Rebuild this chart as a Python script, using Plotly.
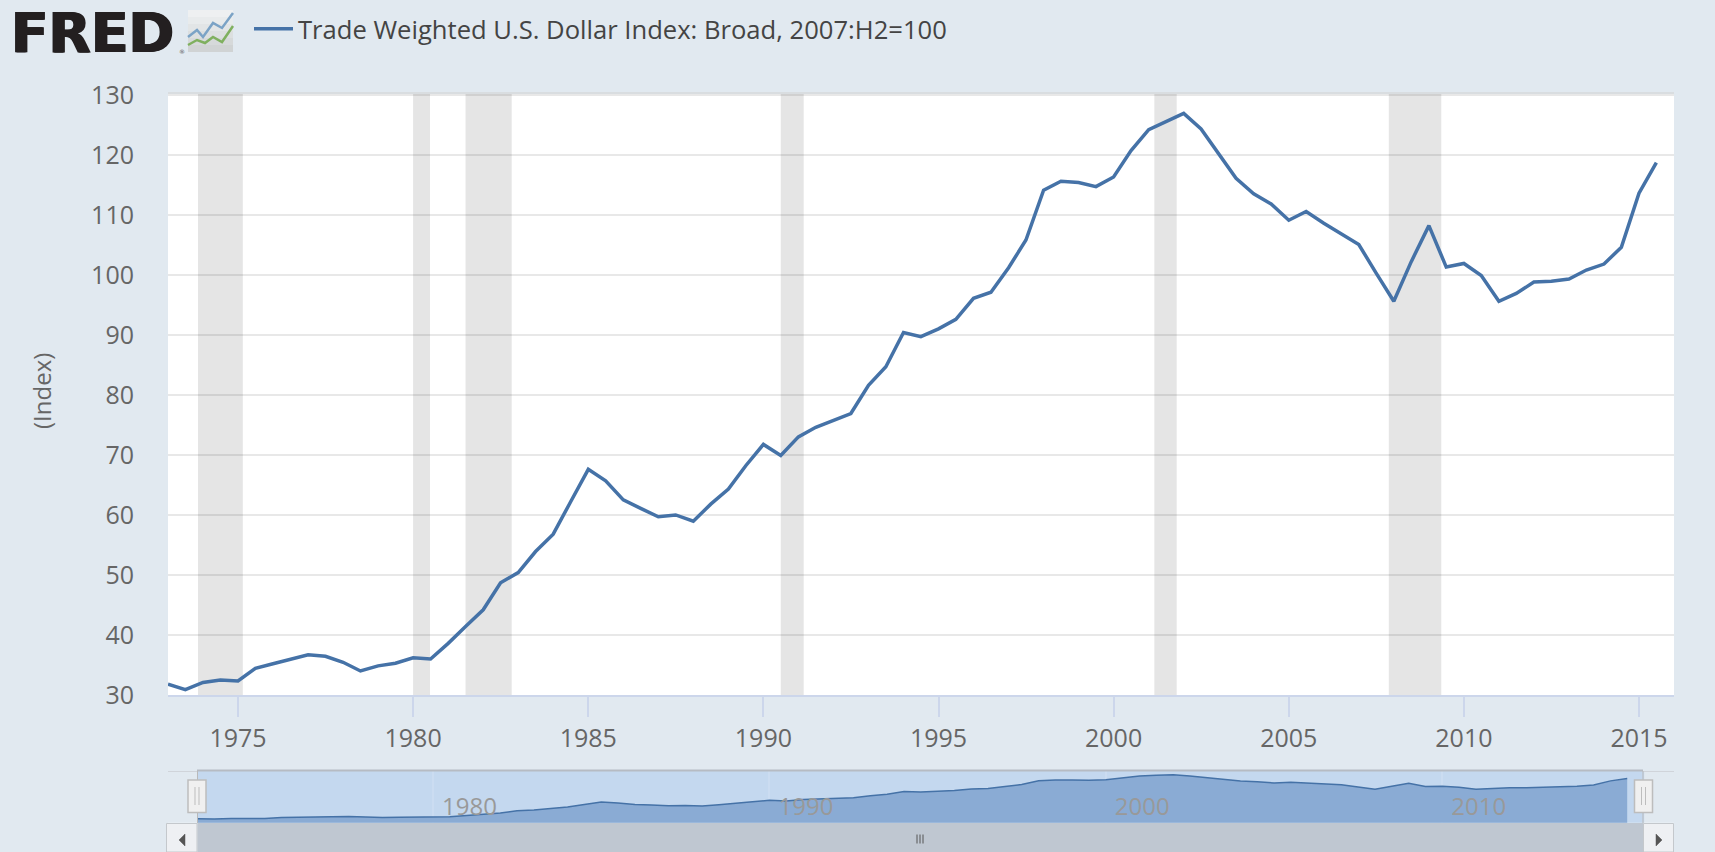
import pandas as pd
import plotly.graph_objects as go

W, H = 1715, 852

# ---- data ----
index_values = [
    31.8, 30.9, 32.1, 32.5, 32.35, 34.45, 35.2, 35.95, 36.7, 36.45,
    35.45, 34.0, 34.85, 35.3, 36.2, 36.0, 38.6, 41.4, 44.2, 48.7,
    50.4, 53.9, 56.8, 62.2, 67.6, 65.7, 62.5, 61.1, 59.7, 60.0,
    58.95, 61.8, 64.3, 68.2, 71.75, 69.9, 73.0, 74.6, 75.8, 76.9,
    81.6, 84.7, 90.4, 89.7, 91.0, 92.6, 96.1, 97.1, 101.2, 105.8,
    114.1, 115.6, 115.4, 114.7, 116.3, 120.7, 124.2, 125.6, 126.9, 124.3,
    120.2, 116.1, 113.5, 111.8, 109.1, 110.55, 108.6, 106.8, 105.05, 100.3,
    95.6, 102.2, 108.2, 101.3, 101.9, 99.9, 95.6, 96.9, 98.8, 98.95,
    99.3, 100.8, 101.8, 104.6, 113.6, 118.7,
]
dates = pd.date_range("1973-01-01", periods=len(index_values), freq="6MS").strftime("%Y-%m-%d").tolist()

recession_starts = ["1973-11-10", "1980-01-01", "1981-07-01", "1990-07-01", "2001-03-01", "2007-11-10"]
recession_ends = ["1975-02-20", "1980-06-25", "1982-10-25", "1991-02-25", "2001-10-20", "2009-05-10"]

series_name = "Trade Weighted U.S. Dollar Index: Broad, 2007:H2=100"
y_title = "(Index)"

# ---- styles ----
PAGE = "#e1e9f0"
LINE = "#4572a7"
TICK = "#666666"


def px(x):
    return x / W


def py(y):
    return 1 - y / H


def rect(x0, y0, x1, y1, fill, line=None, lw=1):
    return dict(type="rect", xref="paper", yref="paper", x0=px(x0), x1=px(x1), y0=py(y0), y1=py(y1),
                fillcolor=fill, line=dict(color=line or fill, width=lw if line else 0), layer="above")


def seg(x0, y0, x1, y1, color, lw=1):
    return dict(type="line", xref="paper", yref="paper", x0=px(x0), x1=px(x1), y0=py(y0), y1=py(y1),
                line=dict(color=color, width=lw), layer="above")


def poly(points, color, lw=1.5, fill=None):
    path = "M" + " L".join(f"{px(a):.5f},{py(b):.5f}" for a, b in points)
    if fill:
        path += " Z"
    return dict(type="path", xref="paper", yref="paper", path=path,
                line=dict(color=color, width=lw), fillcolor=fill or "rgba(0,0,0,0)", layer="above")


fig = go.Figure()
fig.add_trace(go.Scatter(x=dates, y=index_values, mode="lines", name=series_name,
                         line=dict(color=LINE, width=3.5), xaxis="x", yaxis="y", showlegend=True,
                         hoverinfo="x+y"))
fig.add_trace(go.Scatter(x=dates, y=index_values, mode="lines", name="navigator",
                         line=dict(color=LINE, width=1.5), fill="tozeroy", fillcolor="#8aabd4",
                         xaxis="x2", yaxis="y2", showlegend=False, hoverinfo="skip"))

shapes = []
for s, e in zip(recession_starts, recession_ends):
    shapes.append(dict(type="rect", xref="x", yref="y domain", x0=s, x1=e, y0=0, y1=1,
                       fillcolor="#e5e5e5", line=dict(width=0), layer="below"))
# navigator background, then selected window
shapes.append(dict(type="rect", xref="x2 domain", yref="y2 domain", x0=0, x1=1, y0=0, y1=1,
                   fillcolor=PAGE, line=dict(width=0), layer="below"))
shapes.append(dict(type="rect", xref="x2", yref="y2 domain", x0="1973-01-01", x1="2016-01-01", y0=0, y1=1,
                   fillcolor="#c4d8ef", line=dict(width=0), layer="below"))
# top border of plot
shapes.append(seg(168, 93, 1674, 93, "#d9dde0", 2))
# navigator frame
shapes += [seg(168, 771.5, 197, 771.5, "#d0d4da", 1), seg(1643, 771.5, 1674, 771.5, "#d0d4da", 1),
           seg(197, 770.5, 1643, 770.5, "#b6bbc3", 2),
           seg(197.5, 771, 197.5, 823, "#b9b9b9", 1), seg(1643, 771, 1643, 852, "#b9b9b9", 1)]
# scrollbar
shapes += [rect(197.5, 823, 1643, 852, "#bfc7d1"),
           rect(166.5, 823.5, 197, 852, "#eef0f3", "#c4c8cc"),
           rect(1643.5, 823.5, 1673.5, 852, "#eef0f3", "#c4c8cc"),
           poly([(179, 840), (185, 834), (185, 846)], "#555555", 0.5, "#555555"),
           poly([(1656, 834), (1656, 846), (1662, 840)], "#555555", 0.5, "#555555")]
for gx in (917, 920, 923):
    shapes.append(seg(gx, 834.5, gx, 843.5, "#555555", 1))
# navigator handles
for hx0, hx1 in ((188, 206), (1634.5, 1652.5)):
    shapes.append(rect(hx0, 780, hx1, 812.5, "#f0f0f0", "#bdbdbd", 1.5))
    mid = (hx0 + hx1) / 2
    shapes.append(seg(mid - 2, 787, mid - 2, 805, "#bdbdbd", 1))
    shapes.append(seg(mid + 2, 787, mid + 2, 805, "#bdbdbd", 1))
# FRED icon: soft vertical gradient, then blue and green lines
icon_bands = ["#eef0f1", "#e8ebec", "#e2e5e6", "#dcdfe0", "#d6d9da", "#d0d3d4"]
for i, colour in enumerate(icon_bands):
    shapes.append(rect(188, 10 + i * 7, 233, 17 + i * 7, colour))
shapes += [poly([(188, 37), (197, 30), (203, 37), (213, 23), (222, 28), (233, 13)], "#7ba3c6", 2.5),
           poly([(188, 45), (197, 40), (205, 43), (213, 37), (222, 42), (233, 26)], "#7fb05f", 2.5)]

annotations = [
    dict(text="FRED", xref="paper", yref="paper", x=px(9), y=py(33), xanchor="left", yanchor="middle",
         showarrow=False,
         font=dict(family="DejaVu Sans", size=55, color="#231f20", weight="bold",
                   shadow="1px 0 #231f20, -1px 0 #231f20")),
    dict(text="®", xref="paper", yref="paper", x=px(182), y=py(51), xanchor="center", yanchor="middle",
         showarrow=False, font=dict(family="DejaVu Sans", size=6, color="#555555")),
    dict(text=y_title, xref="paper", yref="paper", x=px(41.5), y=py(391.5), xanchor="center", yanchor="middle",
         textangle=-90, showarrow=False, font=dict(family="Open Sans", size=24, color=TICK)),
]

fig.update_layout(
    width=W, height=H, autosize=False,
    margin=dict(l=0, r=0, t=0, b=0, autoexpand=False),
    paper_bgcolor=PAGE, plot_bgcolor="#ffffff",
    font=dict(family="Open Sans", color=TICK),
    showlegend=True,
    legend=dict(x=px(249), y=py(29), xanchor="left", yanchor="middle",
                bgcolor="rgba(0,0,0,0)", itemwidth=39,
                font=dict(family="Open Sans", size=25.6, color="#444444"), borderwidth=0),
    xaxis=dict(domain=[px(168), px(1674)], anchor="y", type="date",
               range=["1973-01-01", "2016-01-01"], tick0="1975-01-01", dtick="M60", tickformat="%Y",
               showgrid=False, showline=True, linecolor="#ccd6eb", linewidth=2,
               ticks="outside", ticklen=20, tickwidth=1.5, tickcolor="#ccd6eb",
               tickfont=dict(family="Open Sans", size=25, color=TICK), zeroline=False),
    yaxis=dict(domain=[py(695), py(93)], anchor="x", range=[30, 130.3], tick0=30, dtick=10,
               showgrid=True, gridcolor="rgba(0,0,0,0.09)", gridwidth=2, zeroline=False, showline=False,
               ticks="", ticklabelstandoff=33,
               tickfont=dict(family="Open Sans", size=25, color=TICK)),
    xaxis2=dict(domain=[px(168), px(1674)], anchor="y2", type="date",
                range=["1972-02-15", "2016-11-20"], tick0="1980-01-01", dtick="M120", tickformat="%Y",
                showgrid=True, gridcolor="rgba(255,255,255,0.12)", gridwidth=1.5,
                showline=False, ticks="", ticklabelposition="inside right", ticklabelshift=9,
                ticklabelstandoff=-3,
                tickfont=dict(family="Open Sans", size=24, color="#999999"), zeroline=False),
    yaxis2=dict(domain=[py(822.7), py(771)], anchor="x2", range=[23, 135], visible=False, showgrid=False),
    shapes=shapes, annotations=annotations,
)

fig.write_html("out.html", config={"displayModeBar": False},
               post_script="document.body.style.margin='0';document.body.style.overflow='hidden';")
